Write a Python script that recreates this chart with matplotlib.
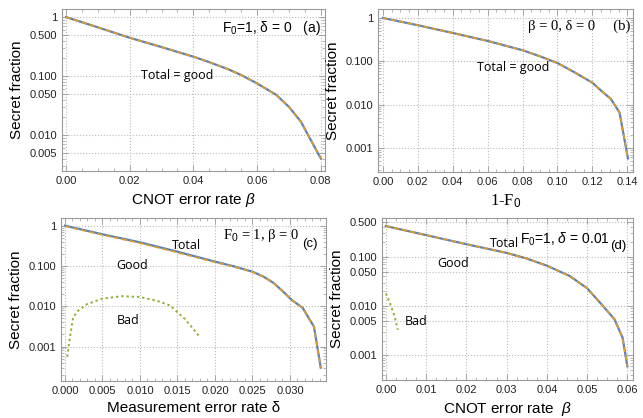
import matplotlib
matplotlib.use("Agg")
import matplotlib.pyplot as plt
from matplotlib.ticker import NullFormatter, MultipleLocator

plt.rcParams['font.family'] = ['Liberation Sans', 'DejaVu Sans']
plt.rcParams['mathtext.fontset'] = 'custom'
plt.rcParams['mathtext.rm'] = 'Liberation Sans'
plt.rcParams['mathtext.it'] = 'Liberation Sans:italic'

# panel (a): CNOT error rate, F0=1, delta=0
a_beta = [0, 0.01, 0.02, 0.03, 0.04, 0.045, 0.0513, 0.055, 0.06, 0.066, 0.070, 0.0737, 0.0768, 0.080]
a_total = [1.0, 0.67, 0.446, 0.31, 0.213, 0.172, 0.128, 0.104, 0.075, 0.048, 0.030, 0.017, 0.0083, 0.0040]

# panel (b): 1-F0, beta=0, delta=0
b_f = [0, 0.02, 0.04, 0.06, 0.08, 0.09, 0.10, 0.11, 0.12, 0.125, 0.1306, 0.1356, 0.1404]
b_total = [1.0, 0.68, 0.45, 0.295, 0.18, 0.13, 0.091, 0.055, 0.032, 0.021, 0.0135, 0.0065, 0.00057]

# panel (c): measurement error rate, F0=1, beta=0
c_delta = [0, 0.005, 0.010, 0.015, 0.020, 0.0225, 0.025, 0.0265, 0.0278, 0.0291, 0.0302, 0.0317, 0.0332, 0.0341]
c_total = [1.0, 0.61, 0.386, 0.226, 0.128, 0.098, 0.072, 0.054, 0.038, 0.023, 0.0145, 0.0091, 0.0031, 0.0003]
c_good = [0.97, 0.59, 0.37, 0.215, 0.124, 0.096, 0.071, 0.054, 0.038, 0.023, 0.0145, 0.0091, 0.0031, 0.0003]
c_bad_delta = [0.0003, 0.0007, 0.0011, 0.0018, 0.0029, 0.005, 0.0076, 0.010, 0.0123, 0.014, 0.016, 0.017, 0.018]
c_bad = [0.00056, 0.0019, 0.0054, 0.0079, 0.0112, 0.0155, 0.0178, 0.017, 0.0136, 0.0105, 0.0048, 0.0029, 0.0017]

# panel (d): CNOT error rate, F0=1, delta=0.01
d_beta = [0, 0.01, 0.02, 0.03, 0.035, 0.04, 0.0456, 0.05, 0.0536, 0.0568, 0.0588, 0.060]
d_total = [0.42, 0.275, 0.18, 0.12, 0.092, 0.066, 0.041, 0.023, 0.0108, 0.0054, 0.0023, 0.0006]
d_bad_beta = [0.0, 0.001, 0.002, 0.003]
d_bad = [0.018, 0.0115, 0.0068, 0.0033]

blue = '#5E81B5'
orange = '#E19C24'
green = '#8FB032'
frame = '#9a9a9a'

fig = plt.figure(figsize=(6.43, 4.18), dpi=100)
W, H = 643., 418.


def add_ax(l, t, r, b):
    return fig.add_axes([l / W, 1 - b / H, (r - l) / W, (b - t) / H])


def style(ax, xlim, ylim, yt, ylab, xmaj, xmin):
    ax.set_yscale('log')
    ax.set_xlim(*xlim)
    ax.set_ylim(*ylim)
    ax.set_yticks(yt, ylab)
    ax.yaxis.set_minor_formatter(NullFormatter())
    ax.xaxis.set_major_locator(MultipleLocator(xmaj))
    ax.xaxis.set_minor_locator(MultipleLocator(xmin))
    ax.tick_params(which='both', direction='in', top=True, right=True,
                   color=frame, labelsize=8, labelcolor='#222222')
    ax.tick_params(which='major', length=4, width=0.6)
    ax.tick_params(which='minor', length=2, width=0.5)
    for s in ax.spines.values():
        s.set_color(frame)
        s.set_linewidth(0.8)
    ax.grid(True, which='major', ls=':', color='#bbbbbb', lw=0.8)
    ax.set_ylabel('Secret fraction', fontsize=11)


def curve(ax, x, y, yg=None):
    ax.plot(x, y, color=blue, lw=1.6, zorder=3)
    ax.plot(x, y if yg is None else yg, color=orange, lw=1.2, ls=(0, (3, 2)), zorder=4)


# (a)
ax = add_ax(62, 9, 325, 171)
curve(ax, a_beta, a_total)
style(ax, (-0.00125, 0.0813), (0.00246, 1.37),
      [0.005, 0.01, 0.05, 0.1, 0.5, 1], ['0.005', '0.010', '0.050', '0.100', '0.500', '1'], 0.02, 0.005)
ax.set_xticks([0, 0.02, 0.04, 0.06, 0.08], ['0.00', '0.02', '0.04', '0.06', '0.08'])
ax.set_xlabel(r'CNOT error rate $\it{\beta}$', fontsize=11)
ax.text(0.61, 0.86, r'F$_0$=1, δ = 0   (a)', transform=ax.transAxes, fontsize=10)
ax.text(0.30, 0.57, 'Total = good', transform=ax.transAxes, fontsize=9, family='Open Sans')

# (b)
ax = add_ax(378, 9, 633, 172)
curve(ax, b_f, b_total)
style(ax, (-0.0028, 0.1433), (0.000277, 1.61),
      [0.001, 0.01, 0.1, 1], ['0.001', '0.010', '0.100', '1'], 0.02, 0.005)
ax.set_xticks([0, 0.02, 0.04, 0.06, 0.08, 0.10, 0.12, 0.14],
              ['0.00', '0.02', '0.04', '0.06', '0.08', '0.10', '0.12', '0.14'])
ax.set_xlabel('1-F$_0$', fontsize=12, family='Liberation Serif')
ax.text(0.59, 0.87, 'β = 0, δ = 0     (b)', transform=ax.transAxes, fontsize=10.5,
        family='Liberation Serif')
ax.text(0.39, 0.62, 'Total = good', transform=ax.transAxes, fontsize=9, family='Open Sans')

# (c)
ax = add_ax(61, 218, 326, 381)
curve(ax, c_delta, c_total, c_good)
ax.plot(c_bad_delta, c_bad, color=green, lw=1.4, ls=(0, (1.2, 1.5)), zorder=3)
style(ax, (-0.00053, 0.0348), (0.00014, 1.55),
      [0.001, 0.01, 0.1, 1], ['0.001', '0.010', '0.100', '1'], 0.005, 0.001)
ax.set_xticks([0, 0.005, 0.01, 0.015, 0.02, 0.025, 0.03],
              ['0.000', '0.005', '0.010', '0.015', '0.020', '0.025', '0.030'])
ax.set_xlabel('Measurement error rate δ', fontsize=11)
ax.text(0.61, 0.87, 'F$_0$ = 1, β = 0', transform=ax.transAxes, fontsize=10.5,
        family='Liberation Serif')
ax.text(0.91, 0.82, '(c)', transform=ax.transAxes, fontsize=9.5)
ax.text(0.42, 0.81, 'Total', transform=ax.transAxes, fontsize=9, family='Open Sans')
ax.text(0.21, 0.69, 'Good', transform=ax.transAxes, fontsize=9, family='Open Sans')
ax.text(0.21, 0.35, 'Bad', transform=ax.transAxes, fontsize=9, family='Open Sans')

# (d)
ax = add_ax(382, 218, 633, 380)
curve(ax, d_beta, d_total)
ax.plot(d_bad_beta, d_bad, color=green, lw=1.4, ls=(0, (1.2, 1.5)), zorder=3)
style(ax, (-0.00096, 0.0614), (0.000316, 0.612),
      [0.001, 0.005, 0.01, 0.05, 0.1, 0.5], ['0.001', '0.005', '0.010', '0.050', '0.100', '0.500'],
      0.01, 0.0025)
ax.set_xticks([0, 0.01, 0.02, 0.03, 0.04, 0.05, 0.06],
              ['0.00', '0.01', '0.02', '0.03', '0.04', '0.05', '0.06'])
ax.set_xlabel(r'CNOT error rate  $\it{\beta}$', fontsize=11)
ax.text(0.55, 0.84, r'F$_0$=1, $\it{\delta}$ = 0.01', transform=ax.transAxes, fontsize=10)
ax.text(0.91, 0.81, '(d)', transform=ax.transAxes, fontsize=9.5)
ax.text(0.43, 0.82, 'Total', transform=ax.transAxes, fontsize=9, family='Open Sans')
ax.text(0.22, 0.70, 'Good', transform=ax.transAxes, fontsize=9, family='Open Sans')
ax.text(0.09, 0.34, 'Bad', transform=ax.transAxes, fontsize=9, family='Open Sans')

fig.savefig('out.png', dpi=100)
